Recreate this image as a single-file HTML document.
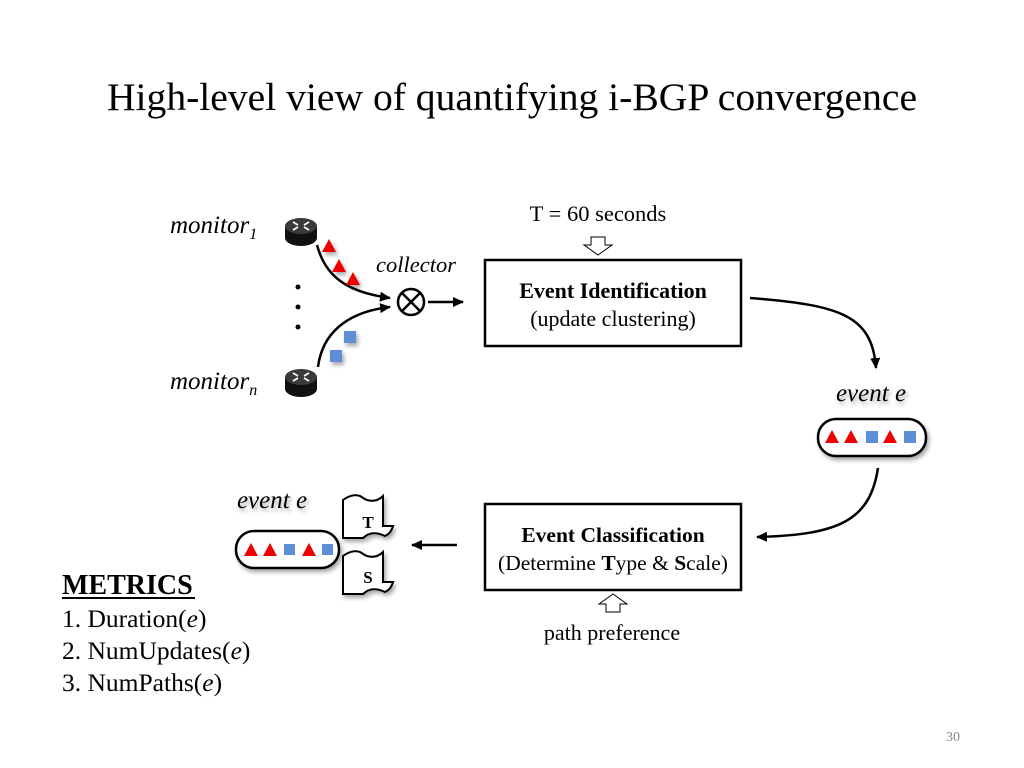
<!DOCTYPE html>
<html><head><meta charset="utf-8"><style>
body{margin:0;background:#fff}
svg{display:block;font-family:"Liberation Serif",serif}
</style></head><body>
<svg width="1024" height="768" viewBox="0 0 1024 768">
<defs>
<marker id="ah" markerWidth="11" markerHeight="10" refX="10" refY="5" orient="auto" markerUnits="userSpaceOnUse"><path d="M0,0 L11,5 L0,10 Z" fill="#000"/></marker>
<filter id="sh" x="-20%" y="-20%" width="150%" height="150%"><feDropShadow dx="2" dy="3" stdDeviation="2" flood-color="#000" flood-opacity="0.35"/></filter>
</defs>
<text x="512" y="110" font-size="39.6" text-anchor="middle">High-level view of quantifying i-BGP convergence</text>

<text x="170" y="233" font-size="25" font-style="italic">monitor<tspan font-size="16" dy="6">1</tspan></text>
<text x="170" y="389" font-size="25" font-style="italic">monitor<tspan font-size="16" dy="6">n</tspan></text>
<g>
<ellipse cx="301" cy="238" rx="16" ry="8" fill="#111"/><rect x="285" y="226" width="32" height="12" fill="#111"/><ellipse cx="301" cy="226" rx="16" ry="8" fill="#3a3a3a"/>
<path d="M293,222 l5,3 M309,230 l-5,-3 M293,230 l5,-3 M309,222 l-5,3" stroke="#fff" stroke-width="1.8"/>
<ellipse cx="301" cy="389" rx="16" ry="8" fill="#111"/><rect x="285" y="377" width="32" height="12" fill="#111"/><ellipse cx="301" cy="377" rx="16" ry="8" fill="#3a3a3a"/>
<path d="M293,373 l5,3 M309,381 l-5,-3 M293,381 l5,-3 M309,373 l-5,3" stroke="#fff" stroke-width="1.8"/>
</g>
<path d="M317,245 C325,275 345,292 390,298" fill="none" stroke="#000" stroke-width="2.5" marker-end="url(#ah)"/>
<path d="M318,367 C322,335 345,312 390,307" fill="none" stroke="#000" stroke-width="2.5" marker-end="url(#ah)"/>
<g fill="#e00" filter="url(#sh)">
<path d="M322,252 l7,-13 l7,13z"/><path d="M332,272 l7,-13 l7,13z"/><path d="M346,285 l7,-13 l7,13z"/>
</g>
<g fill="#5b8fd6" filter="url(#sh)">
<rect x="344" y="331" width="12" height="12"/><rect x="330" y="350" width="12" height="12"/>
</g>
<circle cx="298" cy="287" r="2.5"/><circle cx="298" cy="307" r="2.5"/><circle cx="298" cy="327" r="2.5"/>
<text x="376" y="272" font-size="22.5" font-style="italic">collector</text>
<circle cx="411" cy="302" r="13" fill="none" stroke="#000" stroke-width="2.5"/>
<path d="M402,293 L420,311 M420,293 L402,311" stroke="#000" stroke-width="2.5"/>
<line x1="428" y1="302" x2="463" y2="302" stroke="#000" stroke-width="2.5" marker-end="url(#ah)"/>

<text x="598" y="221" font-size="22.5" text-anchor="middle">T = 60 seconds</text>
<path d="M591,237 h14 v8 h7 l-14,10 l-14,-10 h7 z" fill="#fff" stroke="#000" stroke-width="1"/>

<rect x="485" y="260" width="256" height="86" fill="#fff" stroke="#000" stroke-width="2.5"/>
<text x="613" y="298" font-size="22" font-weight="bold" text-anchor="middle">Event Identification</text>
<text x="613" y="326" font-size="22" text-anchor="middle">(update clustering)</text>

<path d="M750,298 C840,305 872,315 876,368" fill="none" stroke="#000" stroke-width="2.5" marker-end="url(#ah)"/>
<text x="871" y="401" font-size="25" font-style="italic" text-anchor="middle" filter="url(#sh)">event e</text>
<rect x="818" y="419" width="108" height="37" rx="18" fill="#fff" stroke="#000" stroke-width="2.5" filter="url(#sh)"/>
<g fill="#e00"><path d="M825,443 l7,-13 l7,13z"/><path d="M844,443 l7,-13 l7,13z"/><path d="M883,443 l7,-13 l7,13z"/></g>
<g fill="#5b8fd6"><rect x="866" y="431" width="12" height="12"/><rect x="904" y="431" width="12" height="12"/></g>

<path d="M878,468 C870,520 840,535 757,537" fill="none" stroke="#000" stroke-width="2.5" marker-end="url(#ah)"/>

<rect x="485" y="504" width="256" height="86" fill="#fff" stroke="#000" stroke-width="2.5"/>
<text x="613" y="542" font-size="21.5" font-weight="bold" text-anchor="middle">Event Classification</text>
<text x="613" y="570" font-size="21.5" text-anchor="middle">(Determine <tspan font-weight="bold">T</tspan>ype &amp; <tspan font-weight="bold">S</tspan>cale)</text>
<path d="M606,612 h14 v-8 h7 l-14,-10 l-14,10 h7 z" fill="#fff" stroke="#000" stroke-width="1"/>
<text x="612" y="640" font-size="22" text-anchor="middle">path preference</text>

<line x1="457" y1="545" x2="412" y2="545" stroke="#000" stroke-width="2.5" marker-end="url(#ah)"/>

<g fill="#fff" stroke="#000" stroke-width="2" filter="url(#sh)">
<path d="M343,500 c8,-6 16,-6 20,-2 c6,4 14,4 20,-2 v30 h10 c-2,6 -4,8 -8,10 c-8,-4 -16,-4 -22,2 l-20,0z"/>
<path d="M343,556 c8,-6 16,-6 20,-2 c6,4 14,4 20,-2 v30 h10 c-2,6 -4,8 -8,10 c-8,-4 -16,-4 -22,2 l-20,0z"/>
</g>
<text x="368" y="528" font-size="17" font-weight="bold" text-anchor="middle">T</text>
<text x="368" y="583" font-size="17" font-weight="bold" text-anchor="middle">S</text>

<text x="272" y="508" font-size="25" font-style="italic" text-anchor="middle" filter="url(#sh)">event e</text>
<rect x="236" y="531" width="103" height="37" rx="18" fill="#fff" stroke="#000" stroke-width="2.5" filter="url(#sh)"/>
<g fill="#e00"><path d="M244,556 l7,-13 l7,13z"/><path d="M263,556 l7,-13 l7,13z"/><path d="M302,556 l7,-13 l7,13z"/></g>
<g fill="#5b8fd6"><rect x="284" y="544" width="11" height="11"/><rect x="322" y="544" width="11" height="11"/></g>

<text x="62" y="594" font-size="28" font-weight="bold">METRICS</text>
<line x1="62" y1="598" x2="195" y2="598" stroke="#000" stroke-width="2"/>
<text x="62" y="627" font-size="25.5">1. Duration(<tspan font-style="italic">e</tspan>)</text>
<text x="62" y="659" font-size="25.5">2. NumUpdates(<tspan font-style="italic">e</tspan>)</text>
<text x="62" y="691" font-size="25.5">3. NumPaths(<tspan font-style="italic">e</tspan>)</text>

<text x="953" y="741" font-size="14" fill="#888" text-anchor="middle">30</text>
</svg>
</body></html>
